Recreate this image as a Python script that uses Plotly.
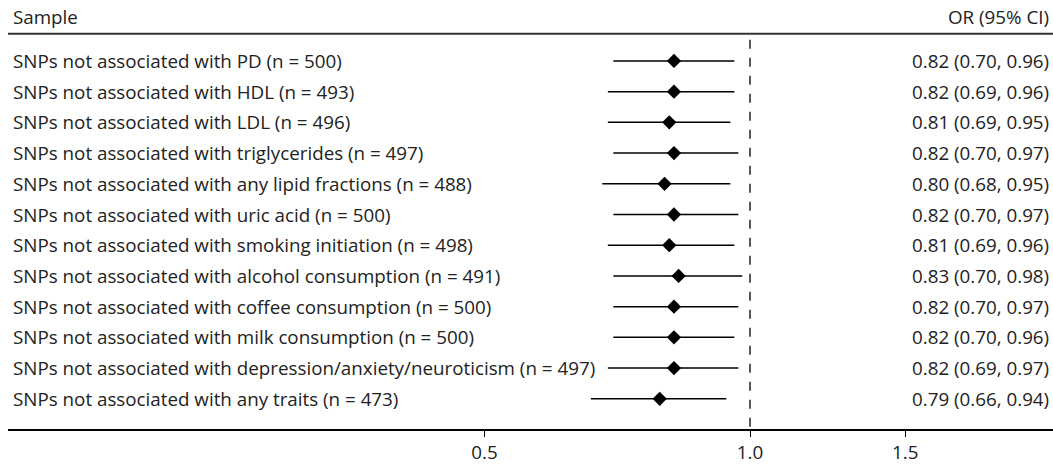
import plotly.graph_objects as go

samples = [
    "SNPs not associated with PD (n = 500)",
    "SNPs not associated with HDL (n = 493)",
    "SNPs not associated with LDL (n = 496)",
    "SNPs not associated with triglycerides (n = 497)",
    "SNPs not associated with any lipid fractions (n = 488)",
    "SNPs not associated with uric acid (n = 500)",
    "SNPs not associated with smoking initiation (n = 498)",
    "SNPs not associated with alcohol consumption (n = 491)",
    "SNPs not associated with coffee consumption (n = 500)",
    "SNPs not associated with milk consumption (n = 500)",
    "SNPs not associated with depression/anxiety/neuroticism (n = 497)",
    "SNPs not associated with any traits (n = 473)",
]
odds_ratio = [0.82, 0.82, 0.81, 0.82, 0.80, 0.82, 0.81, 0.83, 0.82, 0.82, 0.82, 0.79]
ci_low = [0.70, 0.69, 0.69, 0.70, 0.68, 0.70, 0.69, 0.70, 0.70, 0.70, 0.69, 0.66]
ci_high = [0.96, 0.96, 0.95, 0.97, 0.95, 0.97, 0.96, 0.98, 0.97, 0.96, 0.97, 0.94]
tick_vals = [0.5, 1.0, 1.5]
tick_text = ["0.5", "1.0", "1.5"]

FONT = "Open Sans"
FS = 18.8
TXT = "#222222"
W, H = 1053, 465
ML, MB = 8, 32
PW = W - ML
PX_PER_DEC = 882.0
lo = -(750 - ML) / PX_PER_DEC
hi = lo + PW / PX_PER_DEC
ROW = 31.0


def px(xpix):
    return (xpix - ML) / PW


rows = [-i for i in range(len(samples))]
labels = [f"{o:.2f} ({l:.2f}, {h:.2f})" for o, l, h in zip(odds_ratio, ci_low, ci_high)]

fig = go.Figure()
fig.add_trace(go.Scatter(
    x=odds_ratio, y=rows, mode="markers",
    marker=dict(symbol="diamond", size=11, color="black"),
    error_x=dict(type="data", symmetric=False,
                 array=[h - o for h, o in zip(ci_high, odds_ratio)],
                 arrayminus=[o - l for o, l in zip(odds_ratio, ci_low)],
                 width=0, thickness=1.5, color="black"),
    showlegend=False, hoverinfo="skip",
))

top = 61.5 / ROW
header_y = top - 34 / ROW

annotations = []
for r, s, t in zip(rows, samples, labels):
    annotations.append(dict(x=px(11), xref="paper", y=r, yref="y", text=s,
                            showarrow=False, xanchor="left", yanchor="middle",
                            font=dict(family=FONT, size=FS, color=TXT)))
    annotations.append(dict(x=px(1051), xref="paper", y=r, yref="y", text=t,
                            showarrow=False, xanchor="right", yanchor="middle",
                            font=dict(family=FONT, size=FS, color=TXT)))
annotations.append(dict(x=px(11), xref="paper", y=top - 17 / ROW, yref="y", text="Sample",
                        showarrow=False, xanchor="left", yanchor="middle",
                        font=dict(family=FONT, size=FS, color=TXT)))
annotations.append(dict(x=px(1051), xref="paper", y=top - 17 / ROW, yref="y", text="OR (95% CI)",
                        showarrow=False, xanchor="right", yanchor="middle",
                        font=dict(family=FONT, size=FS, color=TXT)))

shapes = [
    dict(type="line", xref="paper", x0=0, x1=1.01, yref="y", y0=header_y, y1=header_y,
         line=dict(color="#333333", width=2)),
    dict(type="line", xref="x", x0=1.0, x1=1.0, yref="y", y0=top - 40 / ROW,
         y1=top - 433 / ROW,
         line=dict(color="black", width=1.3, dash="dash")),
]

fig.update_layout(
    width=W, height=H,
    margin=dict(l=ML, r=0, t=0, b=MB),
    paper_bgcolor="white", plot_bgcolor="white",
    xaxis=dict(type="log", range=[lo, hi], tickvals=tick_vals, ticktext=tick_text,
               showgrid=False, zeroline=False, showline=True, linecolor="black", linewidth=1.5,
               ticks="outside", ticklen=6, tickwidth=1, tickcolor="black",
               tickfont=dict(family=FONT, size=FS, color=TXT)),
    yaxis=dict(range=[top - 433 / ROW, top], showgrid=False, zeroline=False,
               showticklabels=False, showline=False),
    annotations=annotations, shapes=shapes,
)

fig.write_html("out.html", config={"displayModeBar": False},
               post_script="document.body.style.margin='0';document.body.style.overflow='hidden';")
